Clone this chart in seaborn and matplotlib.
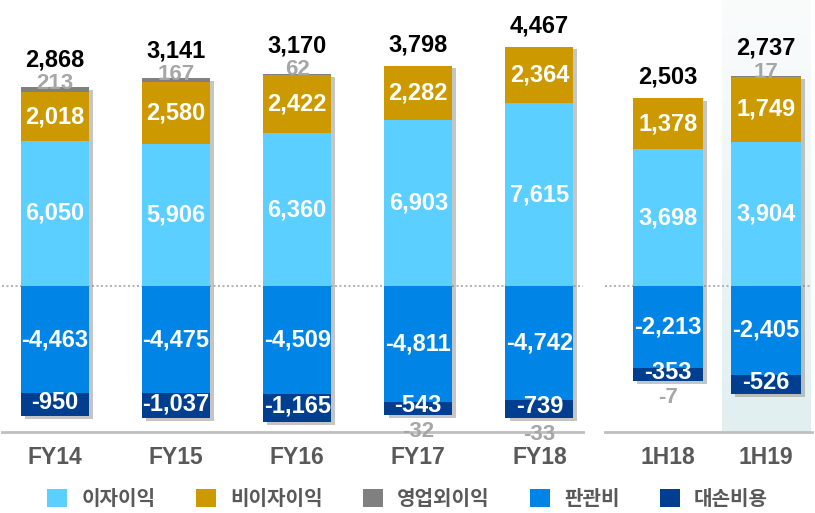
import matplotlib
matplotlib.use("Agg")
import matplotlib.pyplot as plt
import matplotlib.patheffects as pe
import numpy as np
import pandas as pd
import seaborn as sns
from matplotlib.colors import LinearSegmentedColormap
from matplotlib.patches import Patch

# Net income bridge (KRW bn): annual FY14-FY18 and half-year 1H18/1H19
PERIODS = ["FY14", "FY15", "FY16", "FY17", "FY18", "1H18", "1H19"]
GROUPS = ["FY", "FY", "FY", "FY", "FY", "H", "H"]
SERIES = ["이자이익", "비이자이익", "영업외이익", "판관비", "대손비용"]

INTEREST = [6050, 5906, 6360, 6903, 7615, 3698, 3904]
NON_INTEREST = [2018, 2580, 2422, 2282, 2364, 1378, 1749]
NON_OPERATING = [213, 167, 62, -32, -33, -7, 17]
SGA = [-4463, -4475, -4509, -4811, -4742, -2213, -2405]
PROVISIONS = [-950, -1037, -1165, -543, -739, -353, -526]
NET_INCOME = [2868, 3141, 3170, 3798, 4467, 2503, 2737]

COLORS = ["#5BCFFF", "#CC9900", "#808080", "#0085E6", "#003F8F"]
TEXT_GRAY = "#595959"
LABEL_GRAY = "#A6A6A6"

sns.set_style("white")
plt.rcParams["font.family"] = ["Liberation Sans", "Noto Sans CJK KR"]
plt.rcParams["font.weight"] = "bold"

df = pd.DataFrame({
    "period": PERIODS, "group": GROUPS,
    "interest": INTEREST, "non_interest": NON_INTEREST,
    "non_op": NON_OPERATING, "sga": SGA, "prov": PROVISIONS,
    "net": NET_INCOME,
})
df["pos1"] = df["interest"]
df["pos2"] = df["pos1"] + df["non_interest"]
df["pos3"] = df["pos2"] + df["non_op"].clip(lower=0)
df["neg1"] = df["sga"]
df["neg2"] = df["neg1"] + df["prov"]
df["neg3"] = df["neg2"] + df["non_op"].clip(upper=0)

W, H = 815, 513
fig = plt.figure(figsize=(W / 100, H / 100), dpi=100)
ax_fy = fig.add_axes([2 / W, 81 / H, 581 / W, 432 / H])
ax_h = fig.add_axes([605 / W, 81 / H, 207 / W, 432 / H])

panels = [
    (ax_fy, df[df["group"] == "FY"].reset_index(drop=True), 0.56, (-0.437, 4.36), (-6080, 11920)),
    (ax_h, df[df["group"] == "H"].reset_index(drop=True), 0.71, (-0.64, 1.47), (-3950, 7730)),
]

shadow = [pe.SimplePatchShadow(offset=(3, -2), shadow_rgbFace="#7F7F7F", alpha=0.45), pe.Normal()]

for ax, sub, width, xlim, ylim in panels:
    # stacked by overdrawing cumulative totals, outermost first
    layers = [("pos3", COLORS[2]), ("neg3", COLORS[2]),
              ("pos2", COLORS[1]), ("pos1", COLORS[0]),
              ("neg2", COLORS[4]), ("neg1", COLORS[3])]
    for k, (col, color) in enumerate(layers):
        n_before = len(ax.patches)
        sns.barplot(data=sub, x="period", y=col, color=color, saturation=1,
                    width=width, errorbar=None, linewidth=0, ax=ax, zorder=3)
        if k < 2:
            for p in ax.patches[n_before:]:
                p.set_path_effects(shadow)

    ax.axhline(0, color="#A6A6A6", lw=1.2, ls=(0, (1.2, 1.5)), zorder=2)

    for i, r in sub.iterrows():
        white = dict(ha="center", va="center", color="white", fontsize=17,
                     fontweight="bold", zorder=5)
        ax.text(i, r["interest"] / 2, f"{r['interest']:,}", **white)
        ax.text(i, r["pos1"] + r["non_interest"] / 2, f"{r['non_interest']:,}", **white)
        ax.text(i, r["sga"] / 2, f"{r['sga']:,}", **white)
        ax.annotate(f"{r['prov']:,}", (i, r["neg1"] + r["prov"] / 2), xytext=(0, 1.5),
                    textcoords="offset points", **white)

        if r["non_op"] > 0:
            ax.annotate(f"{r['non_op']:,}", (i, r["pos3"]), xytext=(0, 3),
                        textcoords="offset points", ha="center", va="center",
                        color=LABEL_GRAY, fontsize=16, fontweight="bold", zorder=6)
            off = 20
        else:
            ax.annotate(f"{r['non_op']:,}", (i, r["neg3"]), xytext=(0, -11.5),
                        textcoords="offset points", ha="center", va="center",
                        color=LABEL_GRAY, fontsize=16, fontweight="bold", zorder=6)
            off = 15
        ax.annotate(f"{r['net']:,}", (i, r["pos3"]), xytext=(0, off),
                    textcoords="offset points", ha="center", va="center",
                    color="black", fontsize=17, fontweight="bold", zorder=6)

    ax.set_xlim(*xlim)
    ax.set_ylim(*ylim)
    ax.set_xlabel("")
    ax.set_ylabel("")
    ax.set_yticks([])
    ax.tick_params(axis="x", length=0, pad=10, labelsize=16.5, labelcolor=TEXT_GRAY)
    for lbl in ax.get_xticklabels():
        lbl.set_fontweight("bold")
    for side in ["top", "left", "right"]:
        ax.spines[side].set_visible(False)
    ax.spines["bottom"].set_color("#BFBFBF")
    ax.spines["bottom"].set_linewidth(2)
    ax.patch.set_alpha(0)

# highlight for the latest half-year
shade = LinearSegmentedColormap.from_list("shade", ["#E1EFF1", "#FAFCFC"])
grad = np.linspace(0, 1, 256).reshape(-1, 1)
ax_h.imshow(grad, cmap=shade, extent=(0.55, 1.45, -3950, 7730), origin="lower",
            aspect="auto", zorder=0)
ax_h.set_xlim(-0.64, 1.47)
ax_h.set_ylim(-3950, 7730)

handles = [Patch(facecolor=c, edgecolor="none") for c in COLORS]
leg = fig.legend(handles, SERIES, loc="center", bbox_to_anchor=(0.5, 14 / H), ncol=5,
                 frameon=False, fontsize=14.5, handlelength=1.0, handleheight=1.0,
                 handletextpad=0.7, columnspacing=2.0)
for t in leg.get_texts():
    t.set_color(TEXT_GRAY)
    t.set_fontweight("bold")

fig.savefig("out.png", dpi=100)
